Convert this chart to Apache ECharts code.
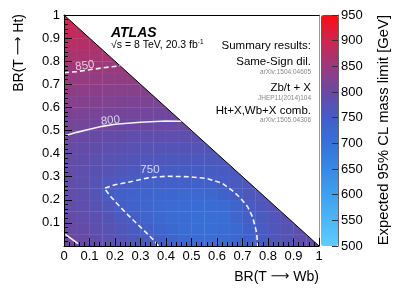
<!DOCTYPE html>
<html><head><meta charset="utf-8">
<script src="https://cdn.jsdelivr.net/npm/echarts@6/dist/echarts.min.js"></script>
<style>html,body{margin:0;padding:0;background:#fff}#c{width:399px;height:293px}</style>
</head><body><div id="c"></div>
<script>
// Expected 95% CL mass limit [GeV], bins of 0.05; rowValues[j] = y bin j (from y=0), x bins from x=0
const binWidth = 0.05;
const rowValues = [
  [804,795,787,779,772,764,756,746,733,722,716,714,716,726,740,754,765,775,784,792],
  [796,791,784,776,767,757,745,733,722,714,710,709,711,722,742,756,766,775,783],
  [793,788,780,771,760,745,732,722,715,711,708,707,710,728,746,758,768,777],
  [790,785,776,765,748,738,728,720,715,712,711,712,717,733,755,764,772],
  [789,783,772,752,741,736,731,728,726,725,725,727,736,751,762,770],
  [789,782,773,763,755,749,745,744,743,743,743,745,752,760,766],
  [789,784,778,772,766,761,757,754,753,752,752,753,756,761],
  [791,787,782,777,773,769,766,764,762,761,761,762,765],
  [795,791,787,783,780,777,775,773,772,771,771,772],
  [801,798,795,792,790,788,786,785,784,783,783],
  [811,809,806,804,802,800,799,798,797,797],
  [820,818,815,813,811,809,808,807,806],
  [829,827,825,823,821,819,818,817],
  [838,836,834,832,830,829,827],
  [846,845,843,841,840,838],
  [855,854,852,850,849],
  [865,864,862,860],
  [876,874,872],
  [887,885],
  [898]
];
const contour850 = [[0,0.75],[0.05,0.755],[0.1,0.763],[0.15,0.771],[0.22,0.78]];
const contour800 = [[0,0.476],[0.05,0.492],[0.1,0.505],[0.15,0.518],[0.2,0.527],[0.3,0.536],[0.4,0.541],[0.46,0.54]];
const contour800corner = [[0.005,0.05],[0.055,0.01]];
const contour750 = [[0.37,0.0],[0.357,0.019],[0.33,0.05],[0.298,0.084],[0.25,0.135],[0.207,0.185],[0.18,0.218],[0.158,0.25],[0.2,0.265],[0.27,0.28],[0.33,0.295],[0.4,0.302],[0.49,0.300],[0.56,0.292],[0.62,0.272],[0.66,0.24],[0.69,0.21],[0.72,0.17],[0.74,0.125],[0.755,0.06],[0.76,0.0]];
const contourLabels = [[0.082,0.78,'850',8],[0.182,0.543,'800',6],[0.337,0.329,'750',0]];
const triangleMask = [[0,1],[1,0],[1,1.001]];
const diagonal = [[0,1],[1,0]];
const colorStops = ['#5fcdfd','#4fb6f5','#41a0ee','#3889e3','#3672d8','#445dc6','#6a48a2','#9a3a7c','#cc2650','#ff0a14'];
const limitMin = 500, limitMax = 950, limitStep = 50;

const cells = [];
rowValues.forEach((row, j) => row.forEach((v, i) => cells.push([(i + 0.5) * binWidth, (j + 0.5) * binWidth, v])));

const FONT = '"Liberation Sans", Arial, Helvetica, sans-serif';
const chart = echarts.init(document.getElementById('c'), null, {renderer: 'canvas'});
const lineS = (data, dashed) => ({
  type: 'line', data, symbol: 'none', smooth: false, silent: true, z: 5,
  lineStyle: {color: 'rgba(255,255,255,0.92)', width: 1.6, type: dashed ? [5, 3] : 'solid'}
});
const axisCommon = {
  type: 'value', min: 0, max: 1, interval: 0.1, z: 10,
  axisLine: {show: true, lineStyle: {color: '#000', width: 1}},
  axisTick: {show: true, inside: true, length: 8, lineStyle: {color: '#000', width: 1}},
  minorTick: {show: true, splitNumber: 5, length: 4, lineStyle: {color: '#000', width: 1}},
  axisLabel: {fontSize: 13, color: '#000', fontFamily: FONT, margin: 4},
  splitLine: {show: false}, minorSplitLine: {show: false}
};
const titleText = (text) => ({
  text: '{t|' + text.replace('→', '}{arr|⟶}{t|') + '}',
  rich: {t: {fontSize: 14, fontFamily: FONT, color: '#000'}, arr: {fontSize: 13, fontFamily: '"DejaVu Sans", sans-serif', color: '#000'}},
  align: 'right', verticalAlign: 'middle'
});
chart.setOption({
  animation: false,
  backgroundColor: '#fff',
  grid: [
    {left: 64, top: 15, width: 255, height: 231, outerBoundsMode: 'none', containLabel: false},
    {left: 321, top: 15, width: 17, height: 231, outerBoundsMode: 'none', containLabel: false}
  ],
  xAxis: [
    Object.assign({}, axisCommon, {gridIndex: 0, position: 'bottom'}),
    {type: 'value', gridIndex: 0, position: 'top', min: 0, max: 1, z: 10, axisLine: {show: true, onZero: false, lineStyle: {color: '#000'}}, axisTick: {show: false}, axisLabel: {show: false}, splitLine: {show: false}},
    {type: 'value', gridIndex: 1, min: 0, max: 1, show: false}
  ],
  yAxis: [
    Object.assign({}, axisCommon, {gridIndex: 0, position: 'left', axisLabel: Object.assign({}, axisCommon.axisLabel, {showMinLabel: false})}),
    {type: 'value', gridIndex: 0, position: 'right', min: 0, max: 1, z: 10, axisLine: {show: true, onZero: false, lineStyle: {color: '#999'}}, axisTick: {show: false}, axisLabel: {show: false}, splitLine: {show: false}},
    {type: 'value', gridIndex: 1, position: 'right', min: limitMin, max: limitMax, interval: limitStep, z: 10,
     axisLine: {show: true, onZero: false, lineStyle: {color: '#666'}},
     axisTick: {show: true, inside: true, length: 6, lineStyle: {color: '#333'}},
     axisLabel: {fontSize: 13, color: '#000', fontFamily: FONT, margin: 3},
     splitLine: {show: false}}
  ],
  visualMap: {
    type: 'continuous', min: limitMin, max: limitMax, dimension: 2, seriesIndex: 0,
    inRange: {color: colorStops}, calculable: false, hoverLink: false, realtime: false,
    left: 321, top: 15, itemWidth: 17, itemHeight: 231, padding: 0, orient: 'vertical', z: 1
  },
  series: [
    {
      type: 'custom', xAxisIndex: 0, yAxisIndex: 0, data: cells, encode: {x: 0, y: 1}, silent: true, z: 2,
      renderItem(params, api) {
        const p = api.coord([api.value(0) - binWidth / 2, api.value(1) + binWidth / 2]);
        const s = api.size([binWidth, binWidth]);
        return {type: 'rect', shape: {x: p[0], y: p[1], width: s[0] + 0.4, height: s[1] + 0.4},
          style: {fill: api.visual('color'), stroke: 'rgba(255,255,255,0.07)', lineWidth: 0.6}};
      }
    },
    {
      type: 'custom', xAxisIndex: 0, yAxisIndex: 0, data: [0], silent: true, z: 3, clip: false,
      renderItem(params, api) {
        return {type: 'polygon', shape: {points: triangleMask.map(p => api.coord(p))}, style: {fill: '#fff'}};
      }
    },
    {type: 'line', data: diagonal, symbol: 'none', silent: true, z: 4, lineStyle: {color: '#000', width: 1}},
    lineS(contour850, true),
    lineS(contour800, false),
    lineS(contour800corner, false),
    lineS(contour750, true),
    {
      type: 'scatter', symbolSize: 0, silent: true, z: 6,
      data: contourLabels.map(d => ({value: [d[0], d[1]], name: d[2], label: {rotate: d[3]}})),
      label: {show: true, position: 'inside', formatter: p => p.name, color: 'rgba(255,255,255,0.92)', fontSize: 11.5, fontFamily: FONT}
    }
  ],
  graphic: {elements: [
    {type: 'text', z: 100, x: 111, y: 33, style: {text: 'ATLAS', fontStyle: 'italic', fontWeight: 'bold', fontSize: 14, fontFamily: FONT, fill: '#000', verticalAlign: 'middle'}},
    {type: 'text', z: 100, x: 111, y: 45, style: {text: '{a|√s = 8 TeV, 20.3 fb}{b|-1}', verticalAlign: 'middle',
      rich: {a: {fontSize: 10.5, fontFamily: FONT, color: '#000'}, b: {fontSize: 6.5, fontFamily: FONT, color: '#000', padding: [0, 0, 6, 0]}}}},
    {type: 'text', z: 100, x: 311, y: 46, style: {text: 'Summary results:', fontSize: 11.5, fontFamily: FONT, fill: '#000', align: 'right', verticalAlign: 'middle'}},
    {type: 'text', z: 100, x: 311, y: 62, style: {text: 'Same-Sign dil.', fontSize: 11.5, fontFamily: FONT, fill: '#000', align: 'right', verticalAlign: 'middle'}},
    {type: 'text', z: 100, x: 311, y: 72, style: {text: 'arXiv:1504.04605', fontSize: 6.5, fontFamily: FONT, fill: '#888', align: 'right', verticalAlign: 'middle'}},
    {type: 'text', z: 100, x: 311, y: 88, style: {text: 'Zb/t + X', fontSize: 11.5, fontFamily: FONT, fill: '#000', align: 'right', verticalAlign: 'middle'}},
    {type: 'text', z: 100, x: 311, y: 98, style: {text: 'JHEP11(2014)104', fontSize: 6.5, fontFamily: FONT, fill: '#888', align: 'right', verticalAlign: 'middle'}},
    {type: 'text', z: 100, x: 311, y: 111, style: {text: 'Ht+X,Wb+X comb.', fontSize: 11.5, fontFamily: FONT, fill: '#000', align: 'right', verticalAlign: 'middle'}},
    {type: 'text', z: 100, x: 311, y: 120, style: {text: 'arXiv:1505.04306', fontSize: 6.5, fontFamily: FONT, fill: '#888', align: 'right', verticalAlign: 'middle'}},
    {type: 'text', z: 100, x: 319, y: 277, style: titleText('BR(T → Wb)')},
    {type: 'text', z: 100, x: 19, y: 14, rotation: Math.PI / 2, style: titleText('BR(T → Ht)')},
    {type: 'text', z: 100, x: 384, y: 15, rotation: Math.PI / 2, style: {text: 'Expected 95% CL mass limit [GeV]', fontSize: 14.8, fontFamily: FONT, fill: '#000', align: 'right', verticalAlign: 'middle'}}
  ]}
});
</script></body></html>
